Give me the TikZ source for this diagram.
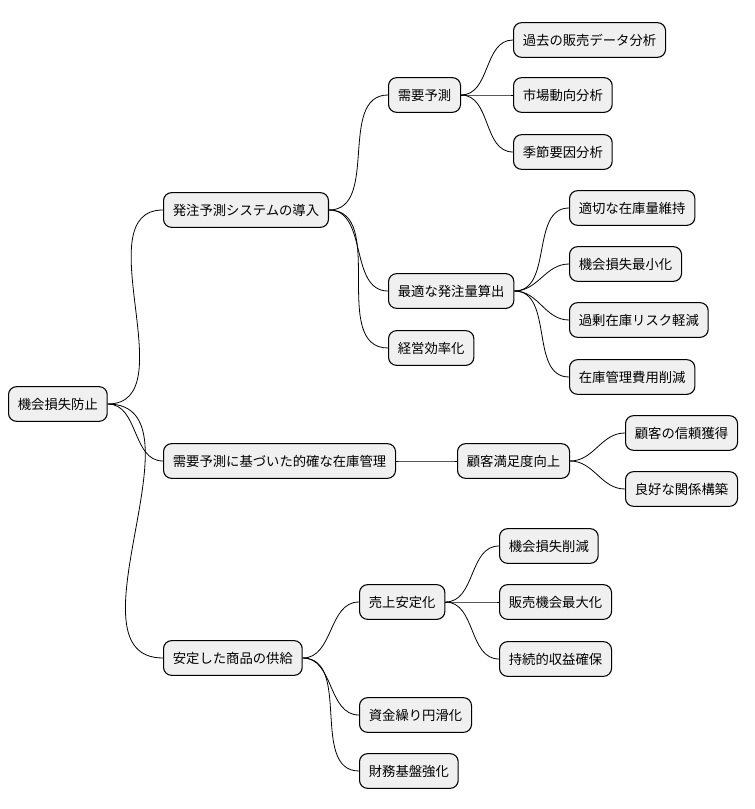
\documentclass[tikz,border=0pt]{standalone}
\usepackage{fontspec}
\setmainfont{Noto Sans CJK JP}
\usetikzlibrary{positioning}

\begin{document}
\begin{tikzpicture}[x=0.75pt,y=-0.75pt,
        topic/.style={draw=black,fill=black!6,rounded corners=6pt,line width=0.8pt,
            minimum height=26pt,inner xsep=7pt,anchor=west,font=\fontsize{10}{12}\selectfont},
        link/.style={draw=black,line width=0.6pt}]
    \useasboundingbox (0,0) rectangle (754,809);

    \node[topic] (root) at (8,404) {機会損失防止};

    \node[topic] (order) at (163,210) {発注予測システムの導入};
    \node[topic] (demand) at (388,95) {需要予測};
    \node[topic] (past) at (513,40) {過去の販売データ分析};
    \node[topic] (market) at (513,95) {市場動向分析};
    \node[topic] (season) at (513,152) {季節要因分析};
    \node[topic] (optimal) at (388,291) {最適な発注量算出};
    \node[topic] (keep) at (569,208) {適切な在庫量維持};
    \node[topic] (minloss) at (569,264) {機会損失最小化};
    \node[topic] (excess) at (569,320) {過剰在庫リスク軽減};
    \node[topic] (cost) at (569,377) {在庫管理費用削減};
    \node[topic] (eff) at (388,348) {経営効率化};

    \node[topic] (stock) at (163,461) {需要予測に基づいた的確な在庫管理};
    \node[topic] (satis) at (457,461) {顧客満足度向上};
    \node[topic] (trust) at (625,433) {顧客の信頼獲得};
    \node[topic] (relation) at (625,489) {良好な関係構築};

    \node[topic] (supply) at (163,658) {安定した商品の供給};
    \node[topic] (sales) at (359,602) {売上安定化};
    \node[topic] (cut) at (499,546) {機会損失削減};
    \node[topic] (maxim) at (499,602) {販売機会最大化};
    \node[topic] (profit) at (499,659) {持続的収益確保};
    \node[topic] (cash) at (359,715) {資金繰り円滑化};
    \node[topic] (base) at (359,771) {財務基盤強化};

    % connectors
    \foreach \a/\b in {root/order,root/stock,root/supply,
            order/demand,order/optimal,order/eff,
            demand/past,demand/market,demand/season,
            optimal/keep,optimal/minloss,optimal/excess,optimal/cost,
            stock/satis,satis/trust,satis/relation,
            supply/sales,supply/cash,supply/base,
            sales/cut,sales/maxim,sales/profit}
        \draw[link] (\a.east) to[out=0,in=180] (\b.west);
\end{tikzpicture}
\end{document}
